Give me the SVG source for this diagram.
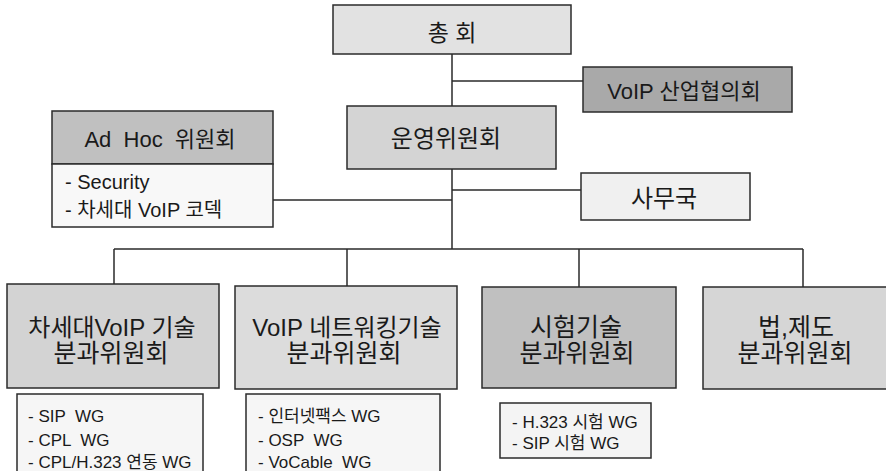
<svg xmlns="http://www.w3.org/2000/svg" width="886" height="471" viewBox="0 0 886 471">
<style>
.box{stroke:#2b2b2b;stroke-width:1.5}
.t{font-family:"Liberation Sans","Noto Sans CJK KR",sans-serif;fill:#1a1a1a}
.c{text-anchor:middle}
.conn{stroke:#2b2b2b;stroke-width:1.5;fill:none}
</style>
<rect width="886" height="471" fill="#ffffff"/>
<g id="connectors">
<path class="conn" d="M452 54V106M452 81H583M452 169V249M273 200H452M452 190H581M114 249H803M114 249V284M347 249V286M579 249V287M803 249V287"/>
</g>
<g id="n-chonghoe">
<rect class="box" x="333" y="5" width="238" height="49" fill="#e2e2e2"/>
<text class="t c" x="452" y="41" font-size="23" xml:space="preserve">총 회</text>
</g>
<g id="n-industry">
<rect class="box" x="583" y="67" width="209" height="45" fill="#a9a9a9"/>
<text class="t c" x="684" y="99" font-size="22">VoIP 산업협의회</text>
</g>
<g id="n-steering">
<rect class="box" x="347" y="106" width="209" height="63" fill="#d4d4d4"/>
<text class="t c" x="446" y="147" font-size="24">운영위원회</text>
</g>
<g id="n-adhoc">
<rect class="box" x="52" y="111" width="221" height="53" fill="#c0c0c0"/>
<rect class="box" x="52" y="164" width="221" height="63" fill="#f8f8f8"/>
<text class="t c" x="160" y="147" font-size="22" xml:space="preserve">Ad  Hoc  위원회</text>
<text class="t" x="65" y="189" font-size="20">- Security</text>
<text class="t" x="65" y="217" font-size="20">- 차세대 VoIP 코덱</text>
</g>
<g id="n-secretariat">
<rect class="box" x="581" y="173" width="169" height="47" fill="#f0f0f0"/>
<text class="t c" x="664" y="207" font-size="24">사무국</text>
</g>
<g id="n-nextgen">
<rect class="box" x="7" y="284" width="212" height="104" fill="#d3d3d3"/>
<text class="t c" x="112" y="336" font-size="24">차세대VoIP 기술</text>
<text class="t c" x="111" y="362" font-size="25">분과위원회</text>
</g>
<g id="n-network">
<rect class="box" x="235" y="286" width="222" height="103" fill="#dcdcdc"/>
<text class="t c" x="347" y="336" font-size="24">VoIP 네트워킹기술</text>
<text class="t c" x="344" y="362" font-size="25">분과위원회</text>
</g>
<g id="n-test">
<rect class="box" x="482" y="287" width="194" height="101" fill="#c0c0c0"/>
<text class="t c" x="576" y="336" font-size="25">시험기술</text>
<text class="t c" x="577" y="362" font-size="25">분과위원회</text>
</g>
<g id="n-law">
<rect class="box" x="703" y="287" width="190" height="102" fill="#d6d6d6"/>
<text class="t c" x="796" y="336" font-size="25">법,제도</text>
<text class="t c" x="795" y="362" font-size="25">분과위원회</text>
</g>
<g id="n-nextgen-wg">
<rect class="box" x="17" y="394" width="186" height="90" fill="#f6f6f6"/>
<text class="t" x="28" y="422" font-size="17" xml:space="preserve">- SIP  WG</text>
<text class="t" x="28" y="446" font-size="17" xml:space="preserve">- CPL  WG</text>
<text class="t" x="28" y="468" font-size="17">- CPL/H.323 연동 WG</text>
</g>
<g id="n-network-wg">
<rect class="box" x="246" y="394" width="194" height="90" fill="#f6f6f6"/>
<text class="t" x="258" y="422" font-size="17">- 인터넷팩스 WG</text>
<text class="t" x="258" y="446" font-size="17" xml:space="preserve">- OSP  WG</text>
<text class="t" x="258" y="468" font-size="17" xml:space="preserve">- VoCable  WG</text>
</g>
<g id="n-test-wg">
<rect class="box" x="500" y="403" width="151" height="55" fill="#f4f4f4"/>
<text class="t" x="512" y="428" font-size="17">- H.323 시험 WG</text>
<text class="t" x="512" y="449" font-size="17">- SIP 시험 WG</text>
</g>
</svg>
